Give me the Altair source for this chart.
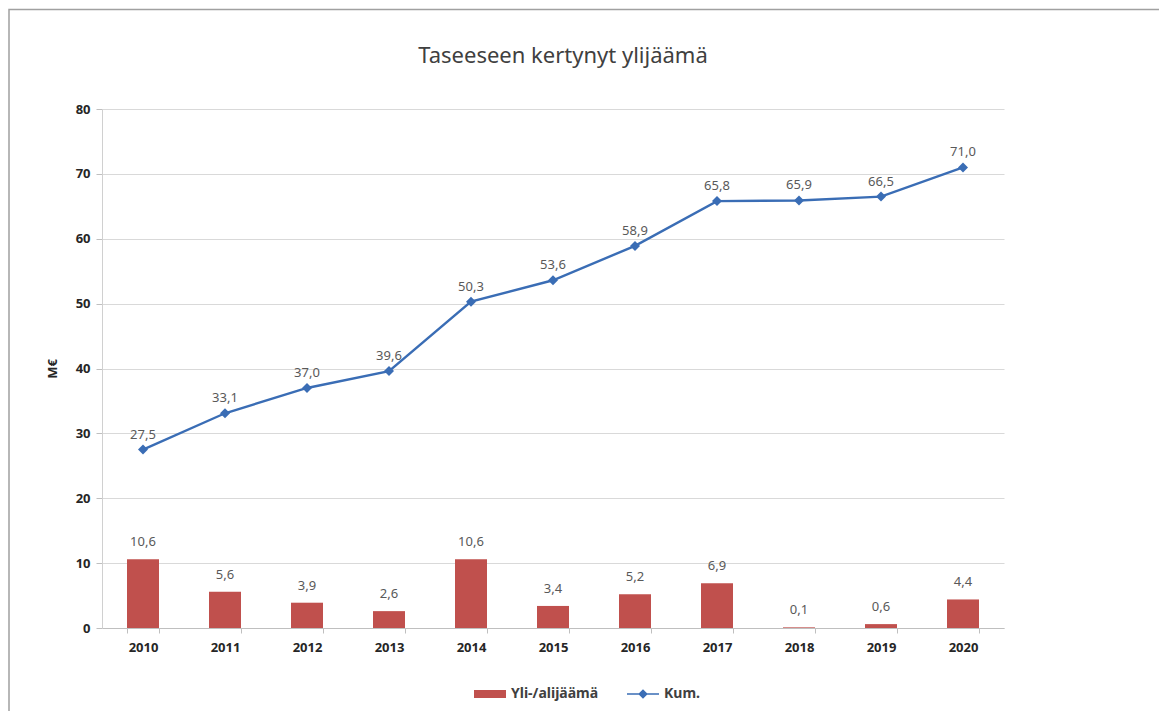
import altair as alt
import pandas as pd

years = ["2010", "2011", "2012", "2013", "2014", "2015", "2016", "2017", "2018", "2019", "2020"]
annual = [10.6, 5.6, 3.9, 2.6, 10.6, 3.4, 5.2, 6.9, 0.1, 0.6, 4.4]
cumulative = [27.5, 33.1, 37.0, 39.6, 50.3, 53.6, 58.9, 65.8, 65.9, 66.5, 71.0]
series_names = ["Yli-/alijäämä", "Kum."]
y_ticks = [0, 10, 20, 30, 40, 50, 60, 70, 80]

df = pd.DataFrame({"year": years, "annual": annual, "cum": cumulative})
legend_df = pd.DataFrame({"series": series_names})
frame_df = pd.DataFrame({"k": [0]})

RED = "#C0504D"
BLUE = "#3A6DB5"
FONT = "Noto Sans"

x = alt.X("year:N", title=None, sort=years,
          scale=alt.Scale(paddingInner=0.61, paddingOuter=0.305),
          axis=alt.Axis(labelAngle=0, labelFontWeight="bold", labelFontSize=13,
                        labelColor="#262626", labelPadding=8, tickBand="extent",
                        tickSize=5, tickColor="#BFBFBF", domainColor="#BFBFBF",
                        grid=False))
y_scale = alt.Scale(domain=[0, 80], nice=False)

base = alt.Chart(df)

bars = base.mark_bar(color=RED, width=32).encode(
    x=x,
    y=alt.Y("annual:Q", scale=y_scale, title="M€",
            axis=alt.Axis(values=y_ticks, labelFontWeight="bold", labelFontSize=13,
                          labelColor="#262626", labelPadding=6, tickSize=6,
                          tickColor="#BFBFBF", domainColor="#D0D0D0",
                          gridColor="#D9D9D9", titleFontWeight="bold",
                          titleFontSize=13, titleColor="#262626", titlePadding=16)),
)

bar_labels = base.transform_calculate(
    lbl="replace(format(datum.annual, '.1f'), '.', ',')"
).mark_text(baseline="bottom", dy=-10, fontSize=13, color="#595959", font=FONT).encode(
    x=x, y=alt.Y("annual:Q", scale=y_scale), text="lbl:N"
)

line = base.mark_line(color=BLUE, strokeWidth=2.4).encode(
    x=x, y=alt.Y("cum:Q", scale=y_scale)
)
points = base.mark_point(shape="diamond", filled=True, color=BLUE, size=100, opacity=1).encode(
    x=x, y=alt.Y("cum:Q", scale=y_scale)
)
line_labels = base.transform_calculate(
    lbl="replace(format(datum.cum, '.1f'), '.', ',')"
).mark_text(baseline="bottom", dy=-8, fontSize=13, color="#595959", font=FONT).encode(
    x=x, y=alt.Y("cum:Q", scale=y_scale), text="lbl:N"
)

rect_path = "M-1,-0.25H1V0.25H-1Z"
kum_path = "M-1,-0.05H1V0.05H-1Z M0,-0.3L0.3,0L0,0.3L-0.3,0Z"

leg = dict(title=None, orient="none", direction="horizontal",
           legendX=372, legendY=569, symbolSize=1024,
           symbolOpacity=1, symbolStrokeWidth=0,
           labelFontSize=14, labelFontWeight="bold",
           labelColor="#404040", labelFont=FONT,
           columnPadding=28, labelOffset=5)

legend_layer = alt.Chart(legend_df).mark_point(filled=True, opacity=0, size=1024).encode(
    color=alt.Color("series:N",
                    scale=alt.Scale(domain=series_names, range=[RED, BLUE]),
                    legend=alt.Legend(**leg)),
    shape=alt.Shape("series:N",
                    scale=alt.Scale(domain=series_names, range=[rect_path, kum_path]),
                    legend=alt.Legend(**leg)),
)

frame = alt.Chart(frame_df).mark_rect(fill=None, stroke="#A0A0A0", strokeWidth=1.5).encode(
    x=alt.value(-93), x2=alt.value(1200), y=alt.value(-99.5), y2=alt.value(800)
)

chart = alt.layer(frame, bars, bar_labels, line, points, line_labels, legend_layer).properties(
    width=902, height=519,
    padding={"left": 94, "top": 101, "right": 155, "bottom": 83},
    autosize=alt.AutoSizeParams(type="none"),
    title=alt.TitleParams("Taseeseen kertynyt ylijäämä", fontSize=22, fontWeight="normal",
                          color="#404040", font=FONT, offset=0, dy=59, dx=10),
).configure_view(stroke=None).configure_axis(labelFont=FONT, titleFont=FONT)

chart.save("out.html", embed_options={"renderer": "svg", "actions": False})
